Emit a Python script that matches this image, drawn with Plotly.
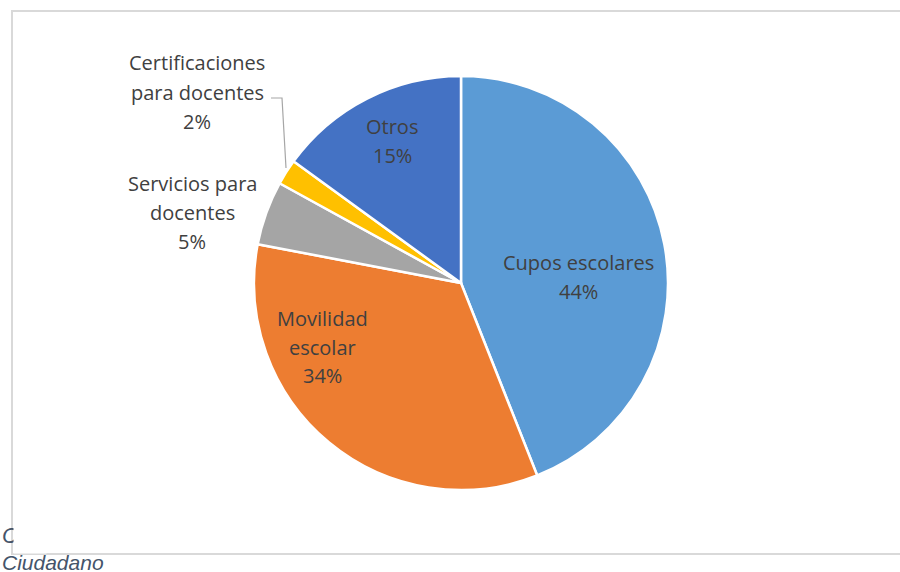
import plotly.graph_objects as go

labels = ["Cupos escolares", "Movilidad escolar", "Servicios para docentes", "Certificaciones para docentes", "Otros"]
label_lines = [["Cupos escolares"], ["Movilidad", "escolar"], ["Servicios para", "docentes"], ["Certificaciones", "para docentes"], ["Otros"]]
values = [44, 34, 5, 2, 15]
colors = ["#5B9BD5", "#ED7D31", "#A5A5A5", "#FFC000", "#4472C4"]
footer_lines = ["C", "Ciudadano"]

W, H = 900, 572
def px(x): return x / W
def py(y): return 1 - y / H

# label centers in pixels (layout, not data)
label_pos = [(578, 277), (322, 347), (192, 212), (197, 92), (392, 141)]

fig = go.Figure(go.Pie(
    labels=labels, values=values, sort=False, direction="clockwise", rotation=0,
    marker=dict(colors=colors, line=dict(color="white", width=2.5)),
    textinfo="none", hoverinfo="label+percent", showlegend=False,
    domain=dict(x=[px(254), px(668)], y=[py(490), py(76)]),
))

total = sum(values)
ann = []
for lines, v, (cx, cy) in zip(label_lines, values, label_pos):
    allines = lines + [f"{round(100 * v / total)}%"]
    n = len(allines)
    for i, t in enumerate(allines):
        yy = cy + (i - (n - 1) / 2) * 29
        ann.append(dict(x=px(cx), y=py(yy), xref="paper", yref="paper", text=t, showarrow=False,
                        xanchor="center", yanchor="middle",
                        font=dict(family="Open Sans, sans-serif", size=20, color="#404040")))

ann.append(dict(x=0, y=py(535), xref="paper", yref="paper", text=f"<i>{footer_lines[0]}</i>", showarrow=False,
                xanchor="left", yanchor="middle", font=dict(family="Liberation Sans, Arial", size=22, color="#44546A")))
ann.append(dict(x=0, y=py(562), xref="paper", yref="paper", text=f"<i>{footer_lines[1]}</i>", showarrow=False,
                xanchor="left", yanchor="middle", font=dict(family="Liberation Sans, Arial", size=21, color="#44546A")))
# white patch clipping the partially hidden first footer line at the chart border
ann.append(dict(x=px(13), y=py(520), xref="paper", yref="paper", text=" ", showarrow=False,
                xanchor="left", yanchor="top", width=30, height=30, bgcolor="white"))

shapes = [
    dict(type="rect", xref="paper", yref="paper", x0=px(12), x1=px(905), y0=py(554), y1=py(11),
         line=dict(color="#D9D9D9", width=2), fillcolor="rgba(0,0,0,0)", layer="below"),
    dict(type="path", xref="paper", yref="paper",
         path=f"M {px(271)} {py(98)} L {px(282)} {py(98)} L {px(286)} {py(168)}",
         line=dict(color="#A6A6A6", width=1.2)),
]

fig.update_layout(width=W, height=H, margin=dict(l=0, r=0, t=0, b=0),
                  paper_bgcolor="white", plot_bgcolor="white",
                  annotations=ann, shapes=shapes)
fig.write_html("out.html")
